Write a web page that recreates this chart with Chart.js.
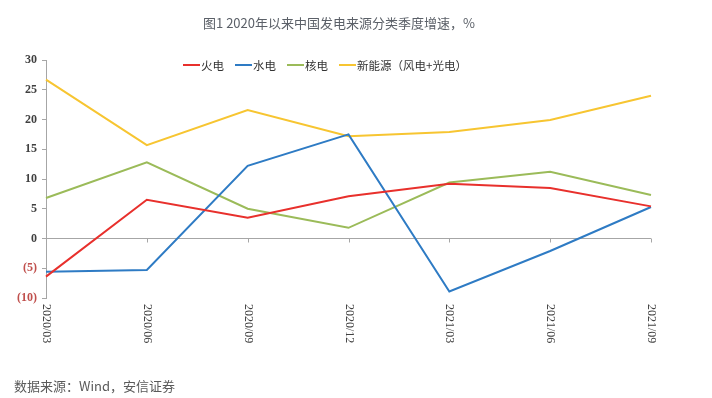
<!DOCTYPE html>
<html>
<head>
<meta charset="utf-8">
<script src="https://cdn.jsdelivr.net/npm/chart.js@4"></script>
<style>
  html, body { margin: 0; padding: 0; background: #fff; }
  #wrap { position: relative; width: 712px; height: 398px; overflow: hidden; }
  #title { position: absolute; left: 0; top: 13px; width: 678px; text-align: center;
           font: 13px "Noto Sans CJK SC", "Noto Sans", sans-serif; color: #5b6068; }
  #legend { position: absolute; left: 183px; top: 57px; display: flex;
            font: 11.5px "Noto Sans CJK SC", "Noto Sans", sans-serif; color: #333; }
  .item { display: flex; align-items: center; margin-right: 11px; }
  .swatch { width: 17px; height: 2px; margin-right: 1px; }
  #source { position: absolute; left: 14px; top: 376px;
            font: 13px "Noto Sans CJK SC", "Noto Sans", sans-serif; color: #5a5a5a; }
  canvas { position: absolute; left: 0; top: 0; }
</style>
</head>
<body>
<div id="wrap">
  <canvas id="chart" width="712" height="398"></canvas>
  <div id="title">图1 2020年以来中国发电来源分类季度增速，%</div>
  <div id="legend"></div>
  <div id="source">数据来源：Wind，安信证券</div>
</div>
<script>
// categories and series (quarterly growth, %)
const quarters = ['2020/03', '2020/06', '2020/09', '2020/12', '2021/03', '2021/06', '2021/09'];
const thermal = [-6.4, 6.5, 3.5, 7.1, 9.2, 8.5, 5.4];      // 火电
const hydro = [-5.6, -5.3, 12.2, 17.5, -8.9, -2.1, 5.3];    // 水电
const nuclear = [6.8, 12.8, 5.0, 1.8, 9.4, 11.2, 7.3];      // 核电
const renewable = [26.7, 15.7, 21.6, 17.2, 17.9, 19.9, 24.0]; // 新能源
const seriesNames = ['火电', '水电', '核电', '新能源（风电+光电）'];
const seriesColors = ['#e8302c', '#2e7bc4', '#9bbb59', '#f7c531'];
const yMin = -10, yMax = 30, yStep = 5;

// html legend
const legend = document.getElementById('legend');
seriesNames.forEach((name, i) => {
    const item = document.createElement('div');
    item.className = 'item';
    item.innerHTML = '<span class="swatch" style="background:' + seriesColors[i] + '"></span>' + name;
    legend.appendChild(item);
});

// zero line ticks + clockwise rotated category labels
const xLabelsPlugin = {
    id: 'xLabels',
    afterDraw(chart) {
        const ctx = chart.ctx;
        const xs = chart.scales.x, ys = chart.scales.y;
        const y0 = ys.getPixelForValue(0);
        ctx.save();
        ctx.strokeStyle = '#a6a6a6';
        ctx.lineWidth = 1;
        ctx.fillStyle = '#404040';
        ctx.font = '12px "Liberation Serif", serif';
        ctx.textAlign = 'left';
        ctx.textBaseline = 'middle';
        quarters.forEach((q, i) => {
            const px = Math.round(xs.getPixelForValue(i)) + 0.5;
            ctx.beginPath();
            ctx.moveTo(px, y0);
            ctx.lineTo(px, y0 + 4);
            ctx.stroke();
            ctx.save();
            ctx.translate(px, chart.chartArea.bottom + 6);
            ctx.rotate(Math.PI / 2);
            ctx.fillText(q, 0, 0);
            ctx.restore();
        });
        ctx.restore();
    }
};

function line(data, i) {
    return {
        label: seriesNames[i],
        data: data,
        borderColor: seriesColors[i],
        backgroundColor: seriesColors[i],
        borderWidth: 2,
        pointRadius: 0,
        tension: 0
    };
}

new Chart(document.getElementById('chart'), {
    type: 'line',
    data: {
        labels: quarters,
        datasets: [line(thermal, 0), line(hydro, 1), line(nuclear, 2), line(renewable, 3)]
    },
    options: {
        responsive: false,
        animation: false,
        layout: { padding: { top: 60, right: 61, bottom: 100, left: 0 } },
        plugins: { legend: { display: false }, tooltip: { enabled: false } },
        scales: {
            x: { display: false, offset: false },
            y: {
                min: yMin, max: yMax,
                afterFit: (scale) => { scale.width = 46; },
                border: { display: true, color: '#a6a6a6' },
                grid: {
                    color: (c) => c.tick && c.tick.value === 0 ? '#a6a6a6' : 'rgba(0,0,0,0)',
                    tickColor: '#a6a6a6',
                    tickLength: 4
                },
                ticks: {
                    stepSize: yStep,
                    padding: 5,
                    font: { family: '"Liberation Serif", serif', size: 12, weight: 'bold' },
                    color: (c) => c.tick.value < 0 ? '#c0504d' : '#404040',
                    callback: (v) => v < 0 ? '(' + (-v) + ')' : v
                }
            }
        }
    },
    plugins: [xLabelsPlugin]
});
</script>
</body>
</html>
